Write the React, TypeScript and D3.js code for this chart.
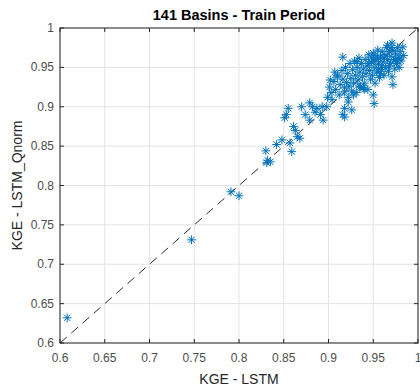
import React from 'react';
import * as d3 from 'd3';

// KGE values, one entry per basin (141)
const kgeLstm = [
  0.608, 0.747, 0.791, 0.800, 0.830, 0.832, 0.835, 0.831, 0.848, 0.857,
  0.859, 0.851, 0.853, 0.855, 0.863, 0.865, 0.868, 0.870, 0.874, 0.879,
  0.879, 0.882, 0.887, 0.891, 0.893, 0.894, 0.898, 0.916, 0.971, 0.980,
  0.972, 0.950, 0.907, 0.910, 0.902, 0.932, 0.935, 0.939, 0.918, 0.918,
  0.926, 0.899, 0.904, 0.918, 0.922, 0.916, 0.951, 0.842, 0.861, 0.885,
  // main cluster
  0.901, 0.903, 0.906, 0.908, 0.910, 0.912, 0.913, 0.915, 0.916, 0.918,
  0.919, 0.920,
  0.921, 0.922, 0.923, 0.924, 0.925, 0.926, 0.927, 0.928, 0.929, 0.930,
  0.931, 0.932, 0.933, 0.934, 0.935, 0.936, 0.937, 0.938, 0.939, 0.940,
  0.941, 0.942, 0.943, 0.944, 0.945, 0.946, 0.947, 0.948, 0.949, 0.950,
  0.951, 0.952, 0.953, 0.954, 0.955, 0.956, 0.957, 0.958, 0.959, 0.960,
  0.945, 0.950, 0.955, 0.958, 0.952,
  0.961, 0.962, 0.963, 0.964, 0.965, 0.966, 0.967, 0.968, 0.969, 0.970,
  0.971, 0.972, 0.973, 0.974, 0.975, 0.976, 0.977, 0.978, 0.979, 0.980,
  0.981, 0.983, 0.984, 0.966, 0.960,
  0.935, 0.928, 0.940, 0.962, 0.970, 0.948, 0.956, 0.975, 0.968,
];

const kgeQnorm = [
  0.632, 0.731, 0.792, 0.787, 0.844, 0.832, 0.830, 0.829, 0.858, 0.854,
  0.843, 0.886, 0.890, 0.898, 0.870, 0.862, 0.860, 0.900, 0.890, 0.905,
  0.883, 0.900, 0.898, 0.890, 0.900, 0.883, 0.900, 0.963, 0.981, 0.962,
  0.928, 0.915, 0.944, 0.938, 0.934, 0.957, 0.925, 0.924, 0.898, 0.887,
  0.896, 0.912, 0.909, 0.919, 0.906, 0.890, 0.904, 0.852, 0.875, 0.893,
  // main cluster
  0.925, 0.918, 0.932, 0.922, 0.940, 0.915, 0.928, 0.946, 0.935, 0.924,
  0.950, 0.931,
  0.942, 0.912, 0.926, 0.955, 0.936, 0.920, 0.947, 0.930, 0.958, 0.940,
  0.918, 0.950, 0.934, 0.962, 0.944, 0.926, 0.955, 0.938, 0.948, 0.930,
  0.960, 0.942, 0.952, 0.922, 0.966, 0.946, 0.935, 0.957, 0.940, 0.968,
  0.950, 0.930, 0.960, 0.944, 0.972, 0.954, 0.937, 0.963, 0.947, 0.970,
  0.955, 0.958, 0.962, 0.942, 0.965,
  0.957, 0.940, 0.966, 0.950, 0.975, 0.960, 0.945, 0.970, 0.955, 0.964,
  0.938, 0.972, 0.958, 0.948, 0.967, 0.955, 0.975, 0.962, 0.950, 0.970,
  0.958, 0.976, 0.965, 0.978, 0.952,
  0.925, 0.915, 0.922, 0.962, 0.975, 0.962, 0.948, 0.960, 0.952,
];

const ticks = [0.6, 0.65, 0.7, 0.75, 0.8, 0.85, 0.9, 0.95, 1];

const W = 420;
const H = 387;
const m = { left: 60, right: 2, top: 28, bottom: 44 };

const App = () => {
  const x = d3.scaleLinear().domain([0.6, 1]).range([m.left, W - m.right]);
  const y = d3.scaleLinear().domain([0.6, 1]).range([H - m.bottom, m.top]);
  const fmt = (v: number) => String(+v.toFixed(2));
  const font = 'Liberation Sans, Arial, Helvetica, sans-serif';
  const blue = '#0072bd';
  const r = 4.4;
  const pts = kgeLstm.map((v, i) => [v, kgeQnorm[i]]);

  return (
    <svg width={W} height={H} style={{ position: 'absolute', left: 0, top: 0, background: '#fff' }}>
      <rect x={0} y={0} width={W} height={H} fill="#fff" />
      {/* grid */}
      {ticks.map((t) => (
        <g key={'g' + t}>
          <line x1={x(t)} x2={x(t)} y1={y(0.6)} y2={y(1)} stroke="#e3e3e3" strokeWidth={1} />
          <line x1={x(0.6)} x2={x(1)} y1={y(t)} y2={y(t)} stroke="#e3e3e3" strokeWidth={1} />
        </g>
      ))}
      {/* 1:1 line */}
      <line x1={x(0.6)} y1={y(0.6)} x2={x(1)} y2={y(1)} stroke="#2b2b2b" strokeWidth={1} strokeDasharray="9,6" />
      {/* points */}
      {pts.map((p, i) => {
        const cx = x(p[0]);
        const cy = y(p[1]);
        const d = r * 0.7071;
        return (
          <g key={i} stroke={blue} strokeWidth={1} fill="none">
            <line x1={cx - r} x2={cx + r} y1={cy} y2={cy} />
            <line x1={cx} x2={cx} y1={cy - r} y2={cy + r} />
            <line x1={cx - d} x2={cx + d} y1={cy - d} y2={cy + d} />
            <line x1={cx - d} x2={cx + d} y1={cy + d} y2={cy - d} />
          </g>
        );
      })}
      {/* box and ticks */}
      <rect x={x(0.6)} y={y(1)} width={x(1) - x(0.6)} height={y(0.6) - y(1)} fill="none" stroke="#262626" strokeWidth={1} />
      {ticks.map((t) => (
        <g key={'t' + t} stroke="#262626" strokeWidth={1}>
          <line x1={x(t)} x2={x(t)} y1={y(0.6)} y2={y(0.6) - 4} />
          <line x1={x(t)} x2={x(t)} y1={y(1)} y2={y(1) + 4} />
          <line x1={x(0.6)} x2={x(0.6) + 4} y1={y(t)} y2={y(t)} />
          <line x1={x(1)} x2={x(1) - 4} y1={y(t)} y2={y(t)} />
        </g>
      ))}
      {ticks.map((t) => (
        <text key={'xl' + t} x={x(t)} y={y(0.6) + 19} textAnchor="middle" fontFamily={font} fontSize={12} fill="#4d4d4d">
          {fmt(t)}
        </text>
      ))}
      {ticks.map((t) => (
        <text key={'yl' + t} x={x(0.6) - 6} y={y(t) + 4} textAnchor="end" fontFamily={font} fontSize={12} fill="#4d4d4d">
          {fmt(t)}
        </text>
      ))}
      <text x={(x(0.6) + x(1)) / 2} y={20} textAnchor="middle" fontFamily={font} fontSize={14.5} fontWeight="bold" fill="#000">
        141 Basins - Train Period
      </text>
      <text x={(x(0.6) + x(1)) / 2} y={384} textAnchor="middle" fontFamily={font} fontSize={14} fill="#262626">
        KGE - LSTM
      </text>
      <text transform={`translate(22,${(y(0.6) + y(1)) / 2}) rotate(-90)`} textAnchor="middle" fontFamily={font} fontSize={14} fill="#262626">
        KGE - LSTM_Qnorm
      </text>
    </svg>
  );
};

export default App;
